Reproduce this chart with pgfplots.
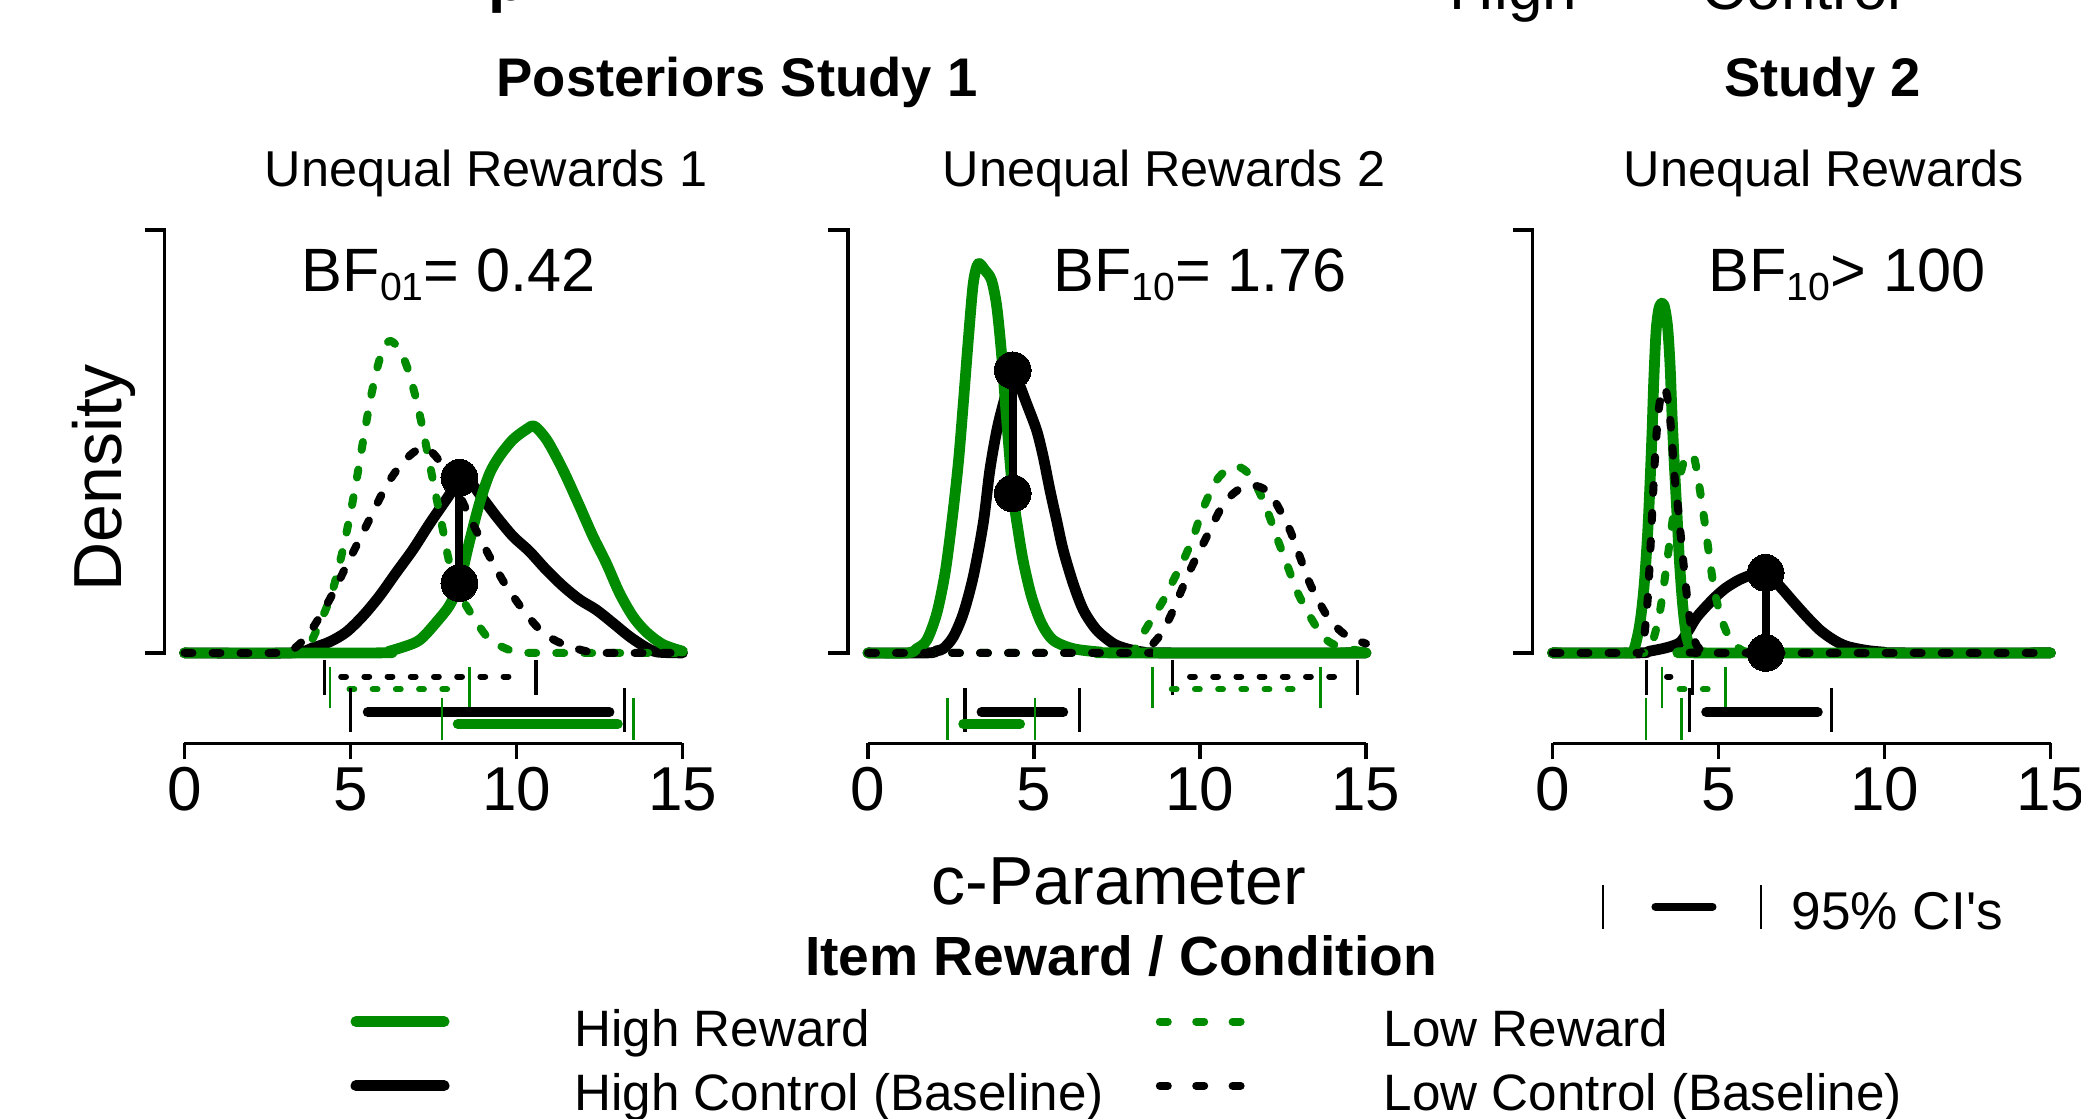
\documentclass[border=0pt]{standalone}
\usepackage{fontspec}
\setmainfont{Liberation Sans}
\newfontfamily\nolig{Liberation Sans}[Ligatures=TeXOff]
\usepackage{pgfplots}
\pgfplotsset{compat=1.18}
\definecolor{rgreen}{RGB}{0,139,0}
\pgfplotsset{
  panel/.style={
    scale only axis, width=124.5pt, height=128.35pt,
    xmin=0, xmax=15, ymin=-0.2137, ymax=1,
    axis x line*=bottom, axis y line=none,
    x axis line style={-, line width=0.85pt},
    xtick={0,5,10,15}, ytick=\empty,
    tick align=outside, major tick length=4pt,
    every tick/.style={black, line width=0.85pt},
    xticklabel style={font=\fontsize{15.5}{15.5}\selectfont, inner sep=0pt, yshift=-1.9pt},
    /pgf/number format/assume math mode=true,
    clip=false, anchor=south west,
  },
  hiR/.style={rgreen, line width=2.7pt, line cap=round, line join=round, smooth, forget plot},
  hiC/.style={black, line width=2.7pt, line cap=round, line join=round, smooth, forget plot},
  loR/.style={rgreen, line width=2pt, line cap=round, dash pattern=on 2pt off 5pt, smooth, forget plot},
  loC/.style={black, line width=2pt, line cap=round, dash pattern=on 2pt off 5pt, smooth, forget plot},
  ciThick/.style={line width=2.5pt, line cap=round, forget plot},
  ciDash/.style={line width=1.5pt, line cap=round, dash pattern=on 1.2pt off 4.6pt, forget plot},
  tickK/.style={black, line width=0.8pt, forget plot},
  tickG/.style={rgreen, line width=0.6pt, forget plot},
  bracket/.style={black, line width=0.85pt, line join=miter, forget plot},
  dotline/.style={black, line width=2pt, forget plot},
  dots/.style={only marks, mark=*, mark size=4.6pt, mark options={fill=black, draw=black, line width=0pt}, forget plot},
  legA/.style={legend image code/.code={\draw[rgreen,line width=2.7pt,line cap=round] (1.35pt,2.3pt)--(23.4pt,2.3pt); \path[draw=none] (-12pt,0pt)--(56pt,0pt);}},
  legC/.style={legend image code/.code={\draw[black,line width=2.7pt,line cap=round] (1.35pt,2.3pt)--(23.4pt,2.3pt); \path[draw=none] (-12pt,0pt)--(56pt,0pt);}},
  legB/.style={legend image code/.code={\draw[rgreen,line width=2pt,line cap=round,dash pattern=on 2pt off 7.1pt] (1pt,2.3pt)--(21.2pt,2.3pt); \path[draw=none] (-13pt,0pt)--(57pt,0pt);}},
  legD/.style={legend image code/.code={\draw[black,line width=2pt,line cap=round,dash pattern=on 2pt off 7.1pt] (1pt,2.3pt)--(21.2pt,2.3pt); \path[draw=none] (-13pt,0pt)--(57pt,0pt);}},
}
\newcommand\citick[4]{\addplot[#1] coordinates {(#2,#3) (#2,#4)};}
\newcommand\BF[2]{BF\raisebox{-2.2pt}{\fontsize{9.8}{9.8}\selectfont #1}#2}

\begin{document}
\begin{tikzpicture}
\path[use as bounding box] (0pt,0pt) rectangle (520.25pt,-279.75pt);

% ---------------- Panel 1: Unequal Rewards 1 ----------------
\begin{axis}[panel, at={(46.125pt,-185.825pt)},
  legend columns=2, legend cell align=left,
  legend style={draw=none, fill=none, inner sep=0pt, outer sep=0pt, row sep=5.25pt, column sep=0pt,
    font=\fontsize{12.8}{12.8}\selectfont, nodes={inner sep=0pt}, at={(0.237,-0.518)}, anchor=north west}]
\addlegendimage{legA}\addlegendentry{High Reward}
\addlegendimage{legB}\addlegendentry{Low Reward}
\addlegendimage{legC}\addlegendentry{High Control (Baseline)}
\addlegendimage{legD}\addlegendentry{Low Control (Baseline)}

\addplot[bracket] coordinates {(-1.2,1) (-0.6,1) (-0.6,0) (-1.2,0)};
% High Control
\addplot[hiC] coordinates {(0,0) (3.2,0) (3.86,0.012) (4.37,0.026) (4.87,0.049) (5.37,0.087) (5.87,0.134) (6.37,0.189) (6.88,0.244) (7.38,0.305) (7.88,0.362) (8.18,0.396) (8.45,0.412) (8.7,0.395) (8.94,0.370) (9.39,0.323) (9.89,0.276) (10.39,0.240) (10.89,0.197) (11.40,0.158) (11.90,0.126) (12.40,0.102) (12.90,0.071) (13.40,0.039) (13.90,0.013) (14.25,0.002) (15,0)};
% High Reward
\addplot[hiR] coordinates {(0,0) (5.8,0) (6.17,0.004) (6.88,0.022) (7.18,0.037) (7.58,0.072) (7.98,0.112) (8.28,0.165) (8.58,0.262) (8.89,0.355) (9.19,0.424) (9.49,0.465) (9.89,0.504) (10.29,0.528) (10.54,0.536) (10.89,0.506) (11.19,0.465) (11.49,0.418) (11.90,0.347) (12.30,0.276) (12.70,0.213) (13.10,0.142) (13.50,0.087) (13.90,0.050) (14.41,0.020) (15,0.004)};
% Low Reward
\addplot[loR] coordinates {(0,0) (3.4,0) (3.66,0.004) (4.17,0.087) (4.47,0.150) (4.77,0.244) (5.02,0.339) (5.22,0.426) (5.42,0.520) (5.62,0.607) (5.82,0.678) (6.02,0.725) (6.22,0.737) (6.48,0.717) (6.73,0.670) (6.98,0.599) (7.18,0.528) (7.38,0.449) (7.58,0.370) (7.78,0.292) (7.98,0.213) (8.28,0.142) (8.68,0.087) (9.19,0.032) (9.89,0.004) (10.5,0) (15,0)};
% Low Control
\addplot[loC] coordinates {(0,0) (2.8,0) (3.26,0.008) (3.76,0.047) (4.37,0.126) (4.87,0.205) (5.27,0.268) (5.67,0.331) (6.07,0.394) (6.48,0.441) (6.88,0.473) (7.22,0.485) (7.52,0.469) (7.92,0.426) (8.30,0.370) (8.65,0.311) (9.16,0.232) (9.66,0.162) (10.26,0.095) (10.81,0.047) (11.42,0.020) (12.10,0.004) (12.6,0) (15,0)};
\addplot[dotline] coordinates {(8.28,0.414) (8.28,0.165)};
\addplot[dots] coordinates {(8.28,0.414) (8.28,0.165)};
% CIs
\citick{tickK}{4.22}{-0.100}{-0.017}\citick{tickK}{10.59}{-0.100}{-0.017}
\addplot[ciDash, black] coordinates {(4.72,-0.056) (9.89,-0.056)};
\citick{tickG}{4.39}{-0.131}{-0.033}\citick{tickG}{8.58}{-0.131}{-0.033}
\addplot[ciDash, rgreen] coordinates {(4.97,-0.086) (7.98,-0.086)};
\citick{tickK}{5.00}{-0.186}{-0.084}\citick{tickK}{13.25}{-0.186}{-0.084}
\addplot[ciThick, black] coordinates {(5.52,-0.140) (12.80,-0.140)};
\citick{tickG}{7.76}{-0.206}{-0.107}\citick{tickG}{13.52}{-0.206}{-0.107}
\addplot[ciThick, rgreen] coordinates {(8.23,-0.168) (13.05,-0.168)};
\node[anchor=base west, inner sep=0pt, font=\fontsize{15.3}{15.3}\selectfont] at (axis cs:3.51,0.854) {\BF{01}{= 0.42}};
\end{axis}

% ---------------- Panel 2: Unequal Rewards 2 ----------------
\begin{axis}[panel, at={(217pt,-185.825pt)}]
\addplot[bracket] coordinates {(-1.2,1) (-0.6,1) (-0.6,0) (-1.2,0)};
\addplot[hiC] coordinates {(0,0) (1.8,0) (2.07,0.005) (2.27,0.010) (2.57,0.038) (2.87,0.093) (3.17,0.180) (3.47,0.306) (3.67,0.432) (3.88,0.526) (4.08,0.590) (4.36,0.664) (4.53,0.640) (4.78,0.589) (5.08,0.526) (5.28,0.463) (5.48,0.385) (5.68,0.314) (5.88,0.243) (6.18,0.164) (6.49,0.101) (6.89,0.054) (7.39,0.022) (7.79,0.010) (8.29,0.002) (9,0) (15,0)};
\addplot[hiR] coordinates {(0,0) (1.2,0) (1.47,0.010) (1.77,0.030) (2.07,0.093) (2.32,0.188) (2.52,0.306) (2.72,0.448) (2.87,0.589) (3.02,0.739) (3.17,0.873) (3.32,0.920) (3.52,0.905) (3.72,0.881) (3.88,0.818) (4.03,0.700) (4.18,0.548) (4.36,0.380) (4.52,0.290) (4.68,0.215) (4.93,0.132) (5.23,0.069) (5.58,0.030) (6.18,0.010) (6.99,0.002) (7.5,0) (15,0)};
\addplot[loR] coordinates {(0,0) (7.7,0) (7.99,0.002) (8.29,0.046) (8.59,0.085) (8.90,0.125) (9.20,0.172) (9.50,0.219) (9.80,0.274) (10.00,0.322) (10.20,0.361) (10.50,0.408) (10.80,0.432) (11.15,0.440) (11.46,0.424) (11.76,0.385) (12.06,0.329) (12.31,0.274) (12.61,0.211) (12.91,0.148) (13.21,0.101) (13.51,0.061) (13.82,0.030) (14.22,0.014) (14.82,0.005) (15,0.004)};
\addplot[loC] coordinates {(0,0) (8.0,0) (8.29,0.002) (8.49,0.014) (8.80,0.042) (9.10,0.085) (9.40,0.140) (9.70,0.195) (10.00,0.243) (10.30,0.290) (10.60,0.337) (10.90,0.369) (11.20,0.388) (11.50,0.396) (11.81,0.392) (12.11,0.377) (12.41,0.337) (12.71,0.290) (13.01,0.227) (13.31,0.164) (13.61,0.117) (13.92,0.077) (14.32,0.046) (14.72,0.030) (15.0,0.022)};
\addplot[dotline] coordinates {(4.36,0.668) (4.36,0.377)};
\addplot[dots] coordinates {(4.36,0.668) (4.36,0.377)};
\citick{tickK}{9.18}{-0.100}{-0.017}\citick{tickK}{14.74}{-0.100}{-0.017}
\addplot[ciDash, black] coordinates {(9.70,-0.056) (14.17,-0.056)};
\citick{tickG}{8.57}{-0.131}{-0.033}\citick{tickG}{13.63}{-0.131}{-0.033}
\addplot[ciDash, rgreen] coordinates {(9.15,-0.086) (12.86,-0.086)};
\citick{tickK}{2.92}{-0.186}{-0.084}\citick{tickK}{6.36}{-0.186}{-0.084}
\addplot[ciThick, black] coordinates {(3.42,-0.140) (5.88,-0.140)};
\citick{tickG}{2.40}{-0.206}{-0.107}\citick{tickG}{5.03}{-0.206}{-0.107}
\addplot[ciThick, rgreen] coordinates {(2.87,-0.168) (4.58,-0.168)};
\node[anchor=base west, inner sep=0pt, font=\fontsize{15.3}{15.3}\selectfont] at (axis cs:5.56,0.854) {\BF{10}{= 1.76}};
\end{axis}

% ---------------- Panel 3: Study 2 ----------------
\begin{axis}[panel, at={(388.125pt,-185.825pt)}]
\addplot[bracket] coordinates {(-1.2,1) (-0.6,1) (-0.6,0) (-1.2,0)};
\addplot[hiC] coordinates {(0,0) (2.6,0) (2.92,0.004) (3.42,0.012) (3.83,0.024) (4.08,0.051) (4.33,0.083) (4.63,0.110) (4.93,0.134) (5.23,0.154) (5.63,0.173) (6.03,0.185) (6.42,0.189) (6.84,0.158) (7.24,0.122) (7.64,0.087) (8.04,0.055) (8.44,0.032) (8.85,0.016) (9.45,0.006) (9.95,0.002) (10.5,0) (15,0)};
\addplot[hiR] coordinates {(0,0) (2.2,0) (2.42,0.002) (2.57,0.043) (2.67,0.091) (2.77,0.169) (2.87,0.288) (2.94,0.406) (3.00,0.524) (3.05,0.642) (3.12,0.760) (3.20,0.812) (3.29,0.827) (3.38,0.816) (3.47,0.768) (3.54,0.682) (3.60,0.563) (3.67,0.445) (3.75,0.327) (3.83,0.209) (3.93,0.106) (4.05,0.035) (4.23,0.004) (4.5,0) (15,0)};
\addplot[loR] coordinates {(0,0) (2.6,0) (2.82,0.004) (3.02,0.028) (3.22,0.091) (3.37,0.169) (3.52,0.256) (3.67,0.343) (3.83,0.414) (3.98,0.457) (4.13,0.470) (4.28,0.457) (4.43,0.390) (4.58,0.311) (4.73,0.225) (4.88,0.146) (5.08,0.083) (5.28,0.043) (5.53,0.016) (5.83,0.002) (6.2,0) (15,0)};
\addplot[loC] coordinates {(0,0) (2.5,0) (2.67,0.002) (2.77,0.043) (2.87,0.130) (2.94,0.232) (3.00,0.327) (3.07,0.437) (3.14,0.524) (3.22,0.587) (3.32,0.626) (3.42,0.619) (3.52,0.571) (3.60,0.500) (3.67,0.422) (3.78,0.343) (3.88,0.264) (3.98,0.185) (4.08,0.114) (4.18,0.059) (4.33,0.020) (4.53,0.004) (4.8,0) (15,0)};
\addplot[dotline] coordinates {(6.42,0.189) (6.42,0)};
\addplot[dots] coordinates {(6.42,0.189) (6.42,0)};
\citick{tickK}{2.82}{-0.100}{-0.017}\citick{tickK}{4.21}{-0.100}{-0.017}
\addplot[ciDash, black] coordinates {(3.45,-0.056) (3.55,-0.056)};
\citick{tickG}{3.30}{-0.131}{-0.033}\citick{tickG}{5.21}{-0.131}{-0.033}
\addplot[ciDash, rgreen] coordinates {(3.83,-0.086) (4.73,-0.086)};
\citick{tickK}{4.13}{-0.186}{-0.084}\citick{tickK}{8.41}{-0.186}{-0.084}
\addplot[ciThick, black] coordinates {(4.63,-0.140) (7.99,-0.140)};
\citick{tickG}{2.82}{-0.206}{-0.107}\citick{tickG}{3.88}{-0.206}{-0.107}
\node[anchor=base west, inner sep=0pt, font=\fontsize{15.3}{15.3}\selectfont] at (axis cs:4.68,0.854) {\BF{10}{> 100}};
% CI key
\addplot[black, line width=0.65pt, forget plot] coordinates {(1.52,-0.549) (1.52,-0.653)};
\addplot[black, line width=2pt, line cap=round, forget plot] coordinates {(3.1,-0.6) (4.82,-0.6)};
\addplot[black, line width=0.65pt, forget plot] coordinates {(6.28,-0.549) (6.28,-0.653)};
\node[anchor=base west, inner sep=0pt, font=\fontsize{13.3}{13.3}\selectfont] at (axis cs:7.18,-0.653) {95\% CI{\nolig '}s};
\end{axis}

% ---------------- Texts ----------------
\node[anchor=base west, inner sep=0pt, font=\bfseries\fontsize{15.5}{15.5}\selectfont] at (122pt,-0.25pt) {p};
\node[anchor=base west, inner sep=0pt, font=\fontsize{15.5}{15.5}\selectfont] at (362.25pt,-2.5pt) {High};
\node[anchor=base west, inner sep=0pt, font=\fontsize{15.5}{15.5}\selectfont] at (425.25pt,-2.5pt) {Control};
\node[anchor=base, inner sep=0pt, font=\bfseries\fontsize{13.6}{13.6}\selectfont] at (184.25pt,-24.2pt) {Posteriors Study 1};
\node[anchor=base, inner sep=0pt, font=\bfseries\fontsize{13.6}{13.6}\selectfont] at (455.6pt,-24.2pt) {Study 2};
\node[anchor=base, inner sep=0pt, font=\fontsize{12.6}{12.6}\selectfont] at (121.5pt,-46.7pt) {Unequal Rewards 1};
\node[anchor=base, inner sep=0pt, font=\fontsize{12.6}{12.6}\selectfont] at (291pt,-46.7pt) {Unequal Rewards 2};
\node[anchor=base, inner sep=0pt, font=\fontsize{12.6}{12.6}\selectfont] at (456pt,-46.7pt) {Unequal Rewards};
\node[anchor=base, inner sep=0pt, rotate=90, font=\fontsize{17}{17}\selectfont] at (30.5pt,-119.45pt) {Density};
\node[anchor=base, inner sep=0pt, font=\fontsize{17}{17}\selectfont] at (279.75pt,-226.25pt) {c-Parameter};
\node[anchor=base, inner sep=0pt, font=\bfseries\fontsize{13.8}{13.8}\selectfont] at (280.25pt,-243.9pt) {Item Reward / Condition};
\end{tikzpicture}
\end{document}
